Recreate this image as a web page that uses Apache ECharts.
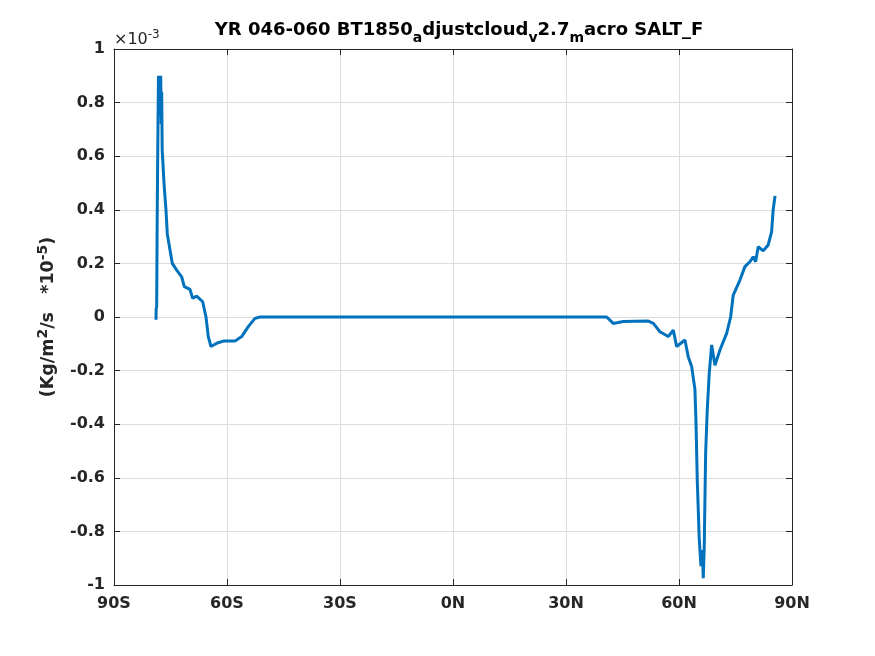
<!DOCTYPE html>
<html><head><meta charset="utf-8">
<script src="https://cdn.jsdelivr.net/npm/echarts@6/dist/echarts.min.js"></script>
<style>html,body{margin:0;padding:0;background:#fff}#c{width:875px;height:656px}</style>
</head><body><div id="c"></div>
<script>
const lats = [-78.85,-78.8,-78.67,-78.55,-78.4,-78.3,-78.19,-78.0,-77.79,-77.6,-77.45,-77.34,-77.2,-77.07,-76.73,-76.2,-75.85,-75.13,-74.52,-73.36,-72.03,-71.34,-69.82,-69.11,-68.05,-66.45,-65.58,-64.97,-64.25,-62.74,-60.98,-57.88,-56.1,-54.35,-52.57,-51.24,
  -40,-20,0,20,40.8,42.55,45.2,51.85,53.2,54.94,57.15,58.48,59.37,61.58,62.45,63.36,64.23,64.5,64.85,65.38,65.83,66.2,66.44,66.7,67.07,67.5,68.03,68.67,69.54,70.87,72.65,73.71,74.4,76.18,77.5,78.83,79.7,80.34,81.03,82.36,83.68,84.58,85.0,85.5];
const vals = [-0.01,0.03,0.04,0.33,0.6,0.75,0.9,0.9,0.75,0.9,0.72,0.84,0.62,0.59,0.50,0.40,0.31,0.25,0.20,0.175,0.15,0.113,0.103,0.07,0.078,0.057,0.0,-0.073,-0.11,-0.098,-0.09,-0.09,-0.073,-0.036,-0.005,0.0,
  0.0,0.0,0.0,0.0,0.0,-0.024,-0.017,-0.015,-0.024,-0.055,-0.073,-0.049,-0.11,-0.086,-0.148,-0.185,-0.27,-0.385,-0.61,-0.83,-0.93,-0.87,-0.975,-0.857,-0.51,-0.347,-0.21,-0.104,-0.18,-0.123,-0.061,0.0,0.082,0.138,0.188,0.206,0.225,0.206,0.262,0.247,0.269,0.318,0.4,0.452];
const xTickLabels = {'-90':'90S','-60':'60S','-30':'30S','0':'0N','30':'30N','60':'60N','90':'90N'};

const tc = '#262626';
const chart = echarts.init(document.getElementById('c'));
const lblFont = {color: tc, fontSize: 16, fontWeight: 'bold', fontFamily: 'DejaVu Sans'};
const boxAxis = {show: true, onZero: false, lineStyle: {color: tc, width: 1}};
const tick = {show: true, inside: true, length: 6, lineStyle: {color: tc}};
chart.setOption({
  animation: false,
  title: {
    text: 'YR 046-060 BT1850{s|a}djustcloud{s|v}2.7{s|m}acro SALT_F',
    left: 454, top: 11, textAlign: 'center',
    textStyle: {fontSize: 18, fontWeight: 'bold', color: '#000', fontFamily: 'DejaVu Sans',
      rich: {s: {fontSize: 14, fontWeight: 'bold', color: '#000', fontFamily: 'DejaVu Sans', padding: [15,0,0,0]}}}
  },
  graphic: [{
    type: 'text', left: 114, top: 29,
    style: {text: '×10{p|-3}', font: '16px DejaVu Sans', fill: tc,
      rich: {p: {fontSize: 12, fontFamily: 'DejaVu Sans', fill: tc, padding: [0,0,9,0]}}}
  }],
  grid: {left: 114, right: 83, top: 49, bottom: 71, show: false},
  xAxis: [{
    type: 'value', min: -90, max: 90, interval: 30,
    axisLine: boxAxis, axisTick: tick,
    axisLabel: Object.assign({formatter: v => xTickLabels[String(v)] || '', margin: 11}, lblFont),
    splitLine: {show: true, lineStyle: {color: '#dcdcdc', width: 1}}
  }, {
    type: 'value', position: 'top', min: -90, max: 90, interval: 30,
    axisLine: boxAxis, axisTick: tick,
    axisLabel: {show: false}, splitLine: {show: false}
  }],
  yAxis: [{
    type: 'value', min: -1, max: 1, interval: 0.2,
    name: '(Kg/m{p|2}/s   *10{p|-5})', nameLocation: 'middle', nameGap: 54, nameRotate: 90,
    nameTextStyle: {color: tc, fontSize: 17.5, fontWeight: 'bold', fontFamily: 'DejaVu Sans',
      rich: {p: {fontSize: 14, fontWeight: 'bold', color: tc, fontFamily: 'DejaVu Sans', padding: [0,0,10,0]}}},
    axisLine: boxAxis, axisTick: tick,
    axisLabel: Object.assign({formatter: v => String(Math.round(v*10)/10), margin: 9}, lblFont),
    splitLine: {show: true, lineStyle: {color: '#dcdcdc', width: 1}}
  }, {
    type: 'value', position: 'right', min: -1, max: 1, interval: 0.2,
    axisLine: boxAxis, axisTick: tick,
    axisLabel: {show: false}, splitLine: {show: false}
  }],
  series: [{
    type: 'line', xAxisIndex: 0, yAxisIndex: 0,
    data: lats.map((x, i) => [x, vals[i]]),
    showSymbol: false, lineStyle: {color: '#0072BD', width: 3}
  }]
});
</script></body></html>
